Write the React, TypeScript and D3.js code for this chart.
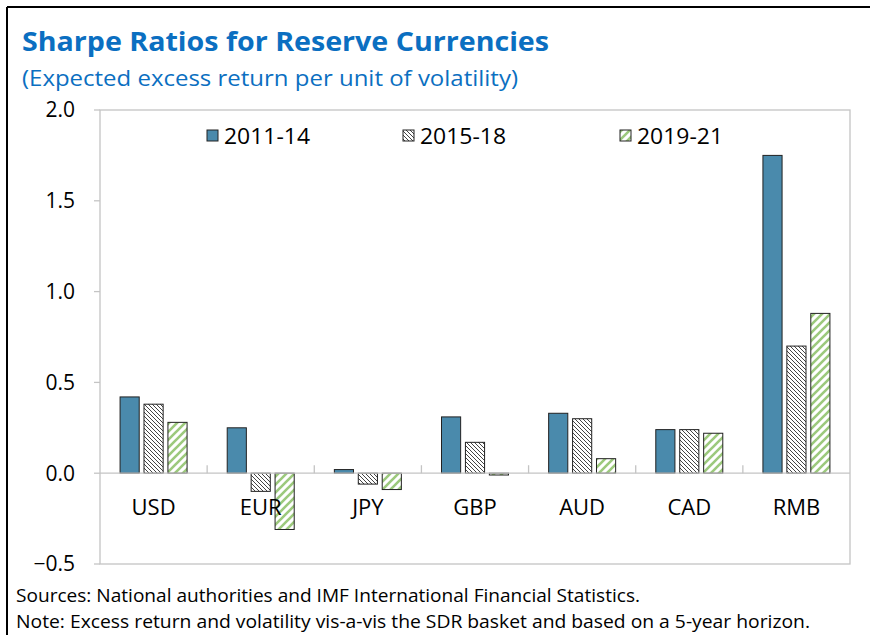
import React from "react";
import * as d3 from "d3";

const categories = ["USD", "EUR", "JPY", "GBP", "AUD", "CAD", "RMB"];
const seriesNames = ["2011-14", "2015-18", "2019-21"];
const values2011 = [0.42, 0.25, 0.02, 0.31, 0.33, 0.24, 1.75];
const values2015 = [0.38, -0.1, -0.06, 0.17, 0.3, 0.24, 0.7];
const values2019 = [0.28, -0.31, -0.09, -0.01, 0.08, 0.22, 0.88];
const yTicks = [-0.5, 0, 0.5, 1.0, 1.5, 2.0];

const font = "'Segoe UI', 'Open Sans', sans-serif";

export default function App() {
  const W = 870;
  const H = 635;
  const plot = { left: 100, right: 850, top: 110, bottom: 564 };

  const x0 = d3.scaleBand().domain(categories).range([plot.left, plot.right]);
  const x1 = d3.scaleBand().domain(seriesNames).range([0, 67]).paddingInner(0.2);
  const y = d3.scaleLinear().domain([-0.5, 2.0]).range([plot.bottom, plot.top]);

  const series = [values2011, values2015, values2019];
  const fills = ["#4a8aac", "url(#hatchDark)", "url(#hatchGreen)"];

  const bars = series.flatMap((vals, si) =>
    vals.map((v, ci) => {
      const cx = x0(categories[ci])! + x0.bandwidth() / 2 - 33.5;
      return {
        key: `${si}-${ci}`,
        x: cx + x1(seriesNames[si])!,
        y: Math.min(y(v), y(0)),
        h: Math.abs(y(v) - y(0)),
        fill: fills[si],
      };
    })
  );

  const legendX = [207, 403, 620];

  return (
    <svg width={W} height={H} style={{ position: "absolute", left: 0, top: 0 }} fontFamily={font}>
      <defs>
        <pattern id="hatchDark" patternUnits="userSpaceOnUse" width="4" height="4">
          <rect width="4" height="4" fill="#fff" />
          <path d="M-1,-1 L5,5 M-1,3 L1,5 M3,-1 L5,1" stroke="#444" strokeWidth="1" />
        </pattern>
        <pattern id="hatchGreen" patternUnits="userSpaceOnUse" width="8" height="8">
          <rect width="8" height="8" fill="#fff" />
          <path d="M-2,10 L10,-2 M-2,2 L2,-2 M6,10 L10,6" stroke="#9cc97c" strokeWidth="2.6" />
        </pattern>
      </defs>
      <rect width={W} height={H} fill="#fff" />
      {/* frame */}
      <line x1={7} y1={7} x2={W} y2={7} stroke="#000" strokeWidth={2} />
      <line x1={7} y1={7} x2={7} y2={H} stroke="#000" strokeWidth={2} />

      <text x={22} y={51} fontSize={27} fontWeight="bold" fill="#0b6fc1" textLength={527} lengthAdjust="spacingAndGlyphs">
        Sharpe Ratios for Reserve Currencies
      </text>
      <text x={22} y={86} fontSize={22} fill="#0b6fc1" textLength={496} lengthAdjust="spacingAndGlyphs">
        (Expected excess return per unit of volatility)
      </text>

      {/* plot area */}
      <rect
        x={plot.left}
        y={plot.top}
        width={plot.right - plot.left}
        height={plot.bottom - plot.top}
        fill="none"
        stroke="#c4c4c4"
        strokeWidth={1.3}
      />
      {yTicks.map((t) => (
        <g key={t}>
          <line x1={plot.left - 6} x2={plot.left} y1={y(t)} y2={y(t)} stroke="#c4c4c4" strokeWidth={1.3} />
          <text x={75} y={y(t)} dy="0.35em" textAnchor="end" fontSize={21} fill="#000">
            {d3.format(".1f")(t)}
          </text>
        </g>
      ))}

      {bars.map((b) => (
        <rect
          key={b.key}
          x={b.x}
          y={b.y}
          width={x1.bandwidth()}
          height={b.h}
          fill={b.fill}
          stroke="#222"
          strokeWidth={1}
        />
      ))}

      {/* zero axis */}
      <line x1={plot.left} x2={plot.right} y1={y(0)} y2={y(0)} stroke="#c4c4c4" strokeWidth={1.3} />
      {categories.slice(1).map((c) => (
        <line key={c} x1={x0(c)!} x2={x0(c)!} y1={y(0)} y2={y(0) - 8} stroke="#c4c4c4" strokeWidth={1.3} />
      ))}
      {categories.map((c) => (
        <text key={c} x={x0(c)! + x0.bandwidth() / 2} y={507} dy="0.35em" textAnchor="middle" fontSize={22} fill="#000">
          {c}
        </text>
      ))}

      {/* legend */}
      {seriesNames.map((s, i) => (
        <g key={s}>
          <rect x={legendX[i]} y={130} width={11} height={11} fill={fills[i]} stroke="#222" strokeWidth={1} />
          <text x={legendX[i] + 17} y={136} dy="0.35em" fontSize={22} fill="#000" textLength={86} lengthAdjust="spacingAndGlyphs">
            {s}
          </text>
        </g>
      ))}

      <text x={16} y={596} dy="0.35em" fontSize={18} fill="#000" textLength={624} lengthAdjust="spacingAndGlyphs">
        Sources: National authorities and IMF International Financial Statistics.
      </text>
      <text x={16} y={622} dy="0.35em" fontSize={18} fill="#000" textLength={794} lengthAdjust="spacingAndGlyphs">
        Note: Excess return and volatility vis-a-vis the SDR basket and based on a 5-year horizon.
      </text>
    </svg>
  );
}
